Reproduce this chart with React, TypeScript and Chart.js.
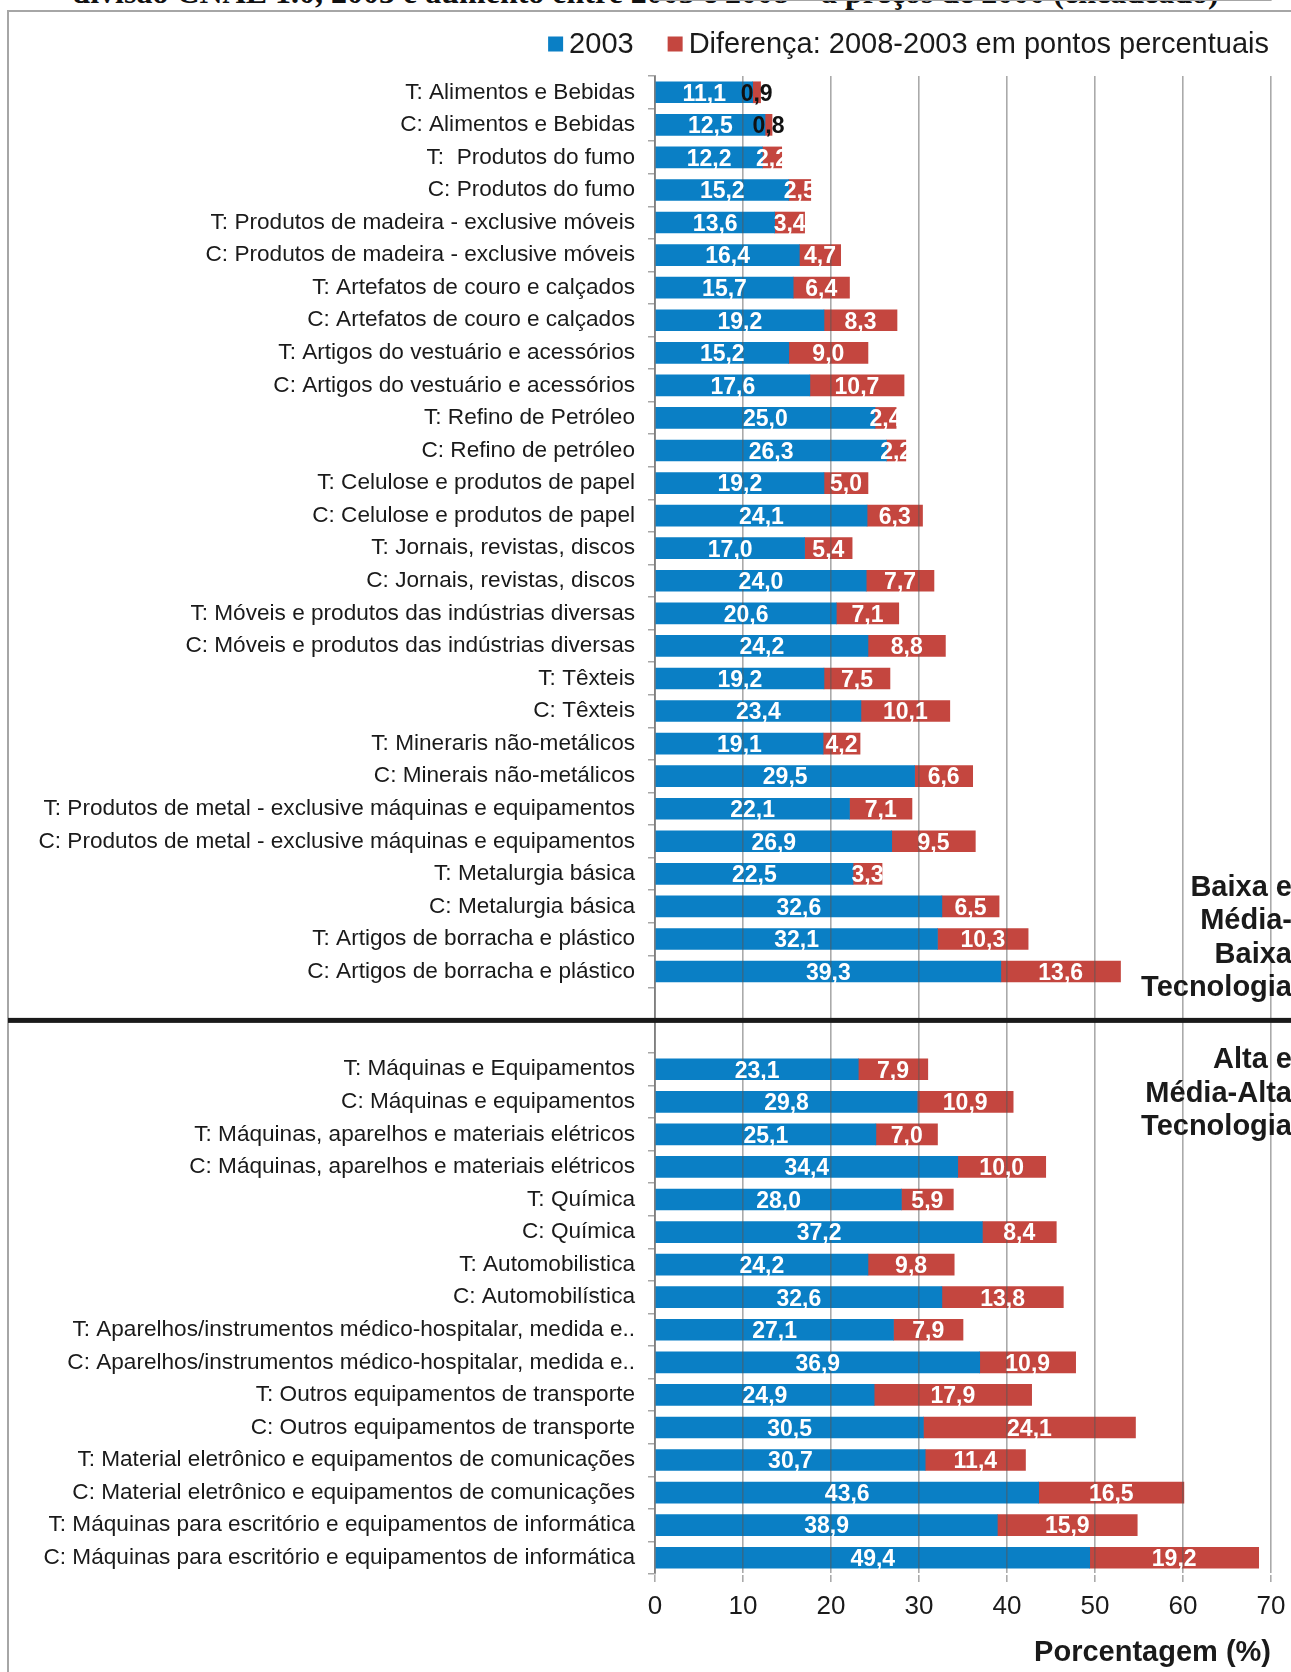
import React, { useEffect, useRef } from 'react';
import { Chart, registerables } from 'chart.js';

Chart.register(...registerables);

// ---------- Data ----------
const lowTechCategories = [
  'T: Alimentos e Bebidas',
  'C: Alimentos e Bebidas',
  'T:  Produtos do fumo',
  'C: Produtos do fumo',
  'T: Produtos de madeira - exclusive móveis',
  'C: Produtos de madeira - exclusive móveis',
  'T: Artefatos de couro e calçados',
  'C: Artefatos de couro e calçados',
  'T: Artigos do vestuário e acessórios',
  'C: Artigos do vestuário e acessórios',
  'T: Refino de Petróleo',
  'C: Refino de petróleo',
  'T: Celulose e produtos de papel',
  'C: Celulose e produtos de papel',
  'T: Jornais, revistas, discos',
  'C: Jornais, revistas, discos',
  'T: Móveis e produtos das indústrias diversas',
  'C: Móveis e produtos das indústrias diversas',
  'T: Têxteis',
  'C: Têxteis',
  'T: Mineraris não-metálicos',
  'C: Minerais não-metálicos',
  'T: Produtos de metal - exclusive máquinas e equipamentos',
  'C: Produtos de metal - exclusive máquinas e equipamentos',
  'T: Metalurgia básica',
  'C: Metalurgia básica',
  'T: Artigos de borracha e plástico',
  'C: Artigos de borracha e plástico',
];
const lowTech2003 = [
  11.1, 12.5, 12.2, 15.2, 13.6, 16.4, 15.7, 19.2, 15.2, 17.6, 25.0, 26.3, 19.2, 24.1,
  17.0, 24.0, 20.6, 24.2, 19.2, 23.4, 19.1, 29.5, 22.1, 26.9, 22.5, 32.6, 32.1, 39.3,
];
const lowTechDiff = [
  0.9, 0.8, 2.2, 2.5, 3.4, 4.7, 6.4, 8.3, 9.0, 10.7, 2.4, 2.2, 5.0, 6.3,
  5.4, 7.7, 7.1, 8.8, 7.5, 10.1, 4.2, 6.6, 7.1, 9.5, 3.3, 6.5, 10.3, 13.6,
];

const gapCategories = ['', ''];

const highTechCategories = [
  'T: Máquinas e Equipamentos',
  'C: Máquinas e equipamentos',
  'T: Máquinas, aparelhos e materiais elétricos',
  'C: Máquinas, aparelhos e materiais elétricos',
  'T: Química',
  'C: Química',
  'T: Automobilistica',
  'C: Automobilística',
  'T: Aparelhos/instrumentos médico-hospitalar, medida e..',
  'C: Aparelhos/instrumentos médico-hospitalar, medida e..',
  'T: Outros equipamentos de transporte',
  'C: Outros equipamentos de transporte',
  'T: Material eletrônico e equipamentos de comunicações',
  'C: Material eletrônico e equipamentos de comunicações',
  'T: Máquinas para escritório e equipamentos de informática',
  'C: Máquinas para escritório e equipamentos de informática',
];
const highTech2003 = [
  23.1, 29.8, 25.1, 34.4, 28.0, 37.2, 24.2, 32.6, 27.1, 36.9, 24.9, 30.5, 30.7, 43.6, 38.9, 49.4,
];
const highTechDiff = [
  7.9, 10.9, 7.0, 10.0, 5.9, 8.4, 9.8, 13.8, 7.9, 10.9, 17.9, 24.1, 11.4, 16.5, 15.9, 19.2,
];

const seriesNames = ['2003', 'Diferença: 2008-2003 em pontos percentuais'];
const xTickValues = [0, 10, 20, 30, 40, 50, 60, 70];
const xAxisTitle = 'Porcentagem (%)';
const lowGroupLabel = ['Baixa e', 'Média-', 'Baixa', 'Tecnologia'];
const highGroupLabel = ['Alta e', 'Média-Alta', 'Tecnologia'];
const pageTitle =
  'divisão CNAE 1.0, 2003 e aumento entre 2003 e 2008 – a preços de 2000 (encadeado)';

// ---------- Styles ----------
const BLUE = '#0a7fc5';
const RED = '#c4463f';
const FONT = '"Liberation Sans", Arial, Helvetica, sans-serif';
const TEXT = '#1a1a1a';
const GRID = '#a6a6a6';

const W = 1291;
const H = 1672;

const overlayPlugin = {
  id: 'overlay',
  afterDraw(chart: any) {
    const ctx = chart.ctx as CanvasRenderingContext2D;
    const yScale = chart.scales.y;
    const area = chart.chartArea;
    ctx.save();

    // data labels
    ctx.font = `bold 23px ${FONT}`;
    ctx.textAlign = 'center';
    ctx.textBaseline = 'middle';
    chart.data.datasets.forEach((ds: any, di: number) => {
      const meta = chart.getDatasetMeta(di);
      meta.data.forEach((bar: any, i: number) => {
        const v = ds.data[i];
        if (v === null || v === undefined) return;
        const p = bar.getProps(['x', 'base', 'y'], true);
        const cx = (p.x + p.base) / 2;
        ctx.fillStyle = v < 1 ? '#111111' : '#ffffff';
        ctx.fillText(v.toFixed(1).replace('.', ','), cx, p.y + 2);
      });
    });

    // separator between groups
    const nLow = lowTechCategories.length;
    const sepY = (yScale.getPixelForValue(nLow) + yScale.getPixelForValue(nLow + 1)) / 2;
    ctx.fillStyle = '#1a1a1a';
    ctx.fillRect(8, sepY - 2.5, chart.width - 8, 5);

    // group labels
    ctx.font = `bold 29px ${FONT}`;
    ctx.textAlign = 'right';
    ctx.textBaseline = 'middle';
    ctx.fillStyle = TEXT;
    const rx = chart.width + 1;
    const lh = 33.5;
    lowGroupLabel.forEach((t, i) => {
      ctx.fillText(t, rx, sepY - 32 - (lowGroupLabel.length - 1 - i) * lh);
    });
    highGroupLabel.forEach((t, i) => {
      ctx.fillText(t, rx, sepY + 40 + i * lh);
    });

    // legend (top right)
    ctx.font = `29px ${FONT}`;
    ctx.textAlign = 'left';
    ctx.textBaseline = 'middle';
    const box = 15;
    const gap = 6;
    const spacing = 34;
    const items = chart.data.datasets.map((ds: any) => ({
      text: ds.label,
      color: ds.backgroundColor,
      w: ctx.measureText(ds.label).width,
    }));
    let total = 0;
    items.forEach((it: any, i: number) => {
      total += box + gap + it.w + (i < items.length - 1 ? spacing : 0);
    });
    let x = area.right - 2 - total;
    const ly = 45;
    items.forEach((it: any) => {
      ctx.fillStyle = it.color;
      ctx.fillRect(x, ly - box / 2 - 1, box, box);
      x += box + gap;
      ctx.fillStyle = TEXT;
      ctx.fillText(it.text, x, ly);
      x += it.w + spacing;
    });

    ctx.restore();
  },
};

export default function App() {
  const canvasRef = useRef<HTMLCanvasElement | null>(null);

  useEffect(() => {
    if (!canvasRef.current) return;
    const categories = [...lowTechCategories, ...gapCategories, ...highTechCategories];
    const gapNulls = gapCategories.map(() => null);
    const base = [...lowTech2003, ...gapNulls, ...highTech2003];
    const diff = [...lowTechDiff, ...gapNulls, ...highTechDiff];

    const chart = new Chart(canvasRef.current, {
      type: 'bar',
      data: {
        labels: categories,
        datasets: [
          {
            label: seriesNames[0],
            data: base,
            backgroundColor: BLUE,
            borderWidth: 0,
            barThickness: 21,
          },
          {
            label: seriesNames[1],
            data: diff,
            backgroundColor: RED,
            borderWidth: 0,
            barThickness: 21,
          },
        ],
      },
      options: {
        indexAxis: 'y',
        animation: false,
        responsive: true,
        maintainAspectRatio: false,
        devicePixelRatio: 1,
        layout: { padding: { top: 76, right: 20, left: 0, bottom: 0 } },
        plugins: {
          legend: { display: false },
          title: { display: false },
          tooltip: { enabled: false },
        },
        scales: {
          x: {
            stacked: true,
            min: xTickValues[0],
            max: xTickValues[xTickValues.length - 1],
            afterBuildTicks: (s: any) => {
              s.ticks = xTickValues.map((v) => ({ value: v }));
            },
            afterFit: (s: any) => {
              s.height = 98;
              s.paddingLeft = 0;
              s.paddingRight = 0;
            },
            grid: {
              color: 'rgba(85,85,85,0.5)',
              lineWidth: 1.6,
              tickLength: 8,
              z: 1,
            },
            border: { display: true, color: GRID, width: 2 },
            ticks: {
              font: { family: FONT, size: 26 },
              color: TEXT,
              padding: 9,
              callback: (v: any) => String(v),
            },
            title: {
              display: true,
              text: xAxisTitle,
              align: 'end',
              font: { family: FONT, size: 29, weight: 'bold' },
              color: TEXT,
              padding: { top: 0, bottom: 2 },
            },
          },
          y: {
            stacked: true,
            afterFit: (s: any) => {
              s.width = 655;
            },
            grid: {
              drawOnChartArea: false,
              drawTicks: true,
              tickLength: 7,
              color: GRID,
              lineWidth: 1.5,
              offset: true,
            },
            border: { display: true, color: GRID, width: 2 },
            ticks: {
              autoSkip: false,
              font: { family: FONT, size: 22.6 },
              color: TEXT,
              padding: 13,
            },
          },
        },
      },
      plugins: [overlayPlugin],
    } as any);

    return () => chart.destroy();
  }, []);

  return (
    <div
      style={{
        position: 'absolute',
        left: 0,
        top: 0,
        width: W,
        height: H,
        overflow: 'hidden',
        background: '#ffffff',
      }}
    >
      <div
        style={{
          position: 'absolute',
          left: 0,
          width: W,
          top: -24,
          lineHeight: '32px',
          fontSize: 32,
          fontWeight: 'bold',
          fontFamily: '"Liberation Serif", "Times New Roman", serif',
          textAlign: 'center',
          whiteSpace: 'nowrap',
          color: '#111',
        }}
      >
        {pageTitle}
      </div>
      <div
        style={{
          position: 'absolute',
          left: 7,
          top: 10,
          width: 1400,
          height: 1800,
          border: '2px solid #a6a6a6',
          boxSizing: 'border-box',
        }}
      />
      <div style={{ position: 'absolute', left: 0, top: 0, width: W, height: H }}>
        <canvas ref={canvasRef} />
      </div>
    </div>
  );
}
